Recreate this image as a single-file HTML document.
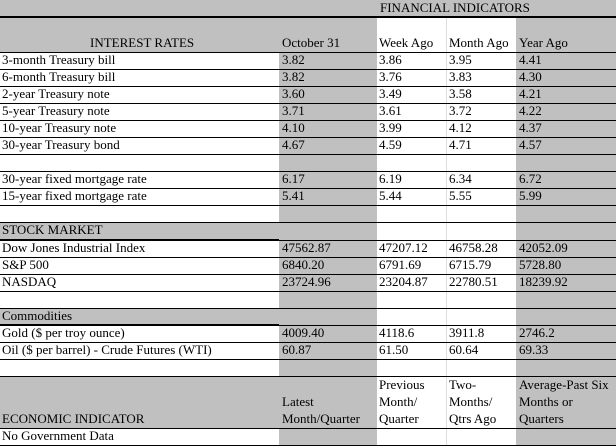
<!DOCTYPE html>
<html><head><meta charset="utf-8"><style>
body{margin:0;width:616px;height:446px;background:#fff;position:relative;overflow:hidden;font-family:"Liberation Serif",serif;font-size:13px;color:#000}
div{position:absolute}
.g{background:#c0c0c0}
.h{height:1px;background:#000;left:0;width:616px}
.t{white-space:nowrap;line-height:14px;margin-top:-1px}
</style></head><body>
<div class="g" style="left:0;top:0;width:616px;height:17px"></div>
<div class="g" style="left:0;top:18px;width:377px;height:34px"></div>
<div class="g" style="left:516px;top:18px;width:100px;height:428px"></div>
<div class="g" style="left:279px;top:18px;width:98px;height:428px"></div>
<div class="g" style="left:0;top:222px;width:279px;height:17px"></div>
<div class="g" style="left:0;top:308px;width:279px;height:17px"></div>
<div class="g" style="left:0;top:376px;width:279px;height:52px"></div>
<div style="left:446px;top:18px;width:1px;height:428px;background:#ddd"></div>
<div style="left:0;top:16px;width:616px;height:2px;background:#000"></div>
<div class="h" style="top:52px"></div><div class="h" style="top:69px"></div><div class="h" style="top:86px"></div><div class="h" style="top:103px"></div><div class="h" style="top:120px"></div><div class="h" style="top:137px"></div><div class="h" style="top:154px"></div><div class="h" style="top:171px"></div><div class="h" style="top:188px"></div><div class="h" style="top:205px"></div><div class="h" style="top:222px"></div>
<div style="left:0;top:239px;width:279px;height:2px;background:#000"></div>
<div class="h" style="top:240px"></div><div class="h" style="top:257px"></div><div class="h" style="top:274px"></div><div class="h" style="top:291px"></div><div class="h" style="top:308px"></div>
<div style="left:0;top:324px;width:279px;height:2px;background:#000"></div>
<div class="h" style="top:325px"></div><div class="h" style="top:342px"></div><div class="h" style="top:359px"></div><div class="h" style="top:376px"></div><div class="h" style="top:428px"></div><div class="h" style="top:445px"></div>

<div class="t" style="left:380px;top:2px">FINANCIAL INDICATORS</div>
<div class="t" style="left:90px;top:37px">INTEREST RATES</div>
<div class="t" style="left:282px;top:37px">October 31</div>
<div class="t" style="left:379px;top:37px">Week Ago</div>
<div class="t" style="left:449px;top:37px">Month Ago</div>
<div class="t" style="left:519px;top:37px">Year Ago</div>

<div class="t" style="left:2px;top:54px">3-month Treasury bill</div><div class="t" style="left:282px;top:54px">3.82</div><div class="t" style="left:379px;top:54px">3.86</div><div class="t" style="left:449px;top:54px">3.95</div><div class="t" style="left:519px;top:54px">4.41</div>
<div class="t" style="left:2px;top:71px">6-month Treasury bill</div><div class="t" style="left:282px;top:71px">3.82</div><div class="t" style="left:379px;top:71px">3.76</div><div class="t" style="left:449px;top:71px">3.83</div><div class="t" style="left:519px;top:71px">4.30</div>
<div class="t" style="left:2px;top:88px">2-year Treasury note</div><div class="t" style="left:282px;top:88px">3.60</div><div class="t" style="left:379px;top:88px">3.49</div><div class="t" style="left:449px;top:88px">3.58</div><div class="t" style="left:519px;top:88px">4.21</div>
<div class="t" style="left:2px;top:105px">5-year Treasury note</div><div class="t" style="left:282px;top:105px">3.71</div><div class="t" style="left:379px;top:105px">3.61</div><div class="t" style="left:449px;top:105px">3.72</div><div class="t" style="left:519px;top:105px">4.22</div>
<div class="t" style="left:2px;top:122px">10-year Treasury note</div><div class="t" style="left:282px;top:122px">4.10</div><div class="t" style="left:379px;top:122px">3.99</div><div class="t" style="left:449px;top:122px">4.12</div><div class="t" style="left:519px;top:122px">4.37</div>
<div class="t" style="left:2px;top:139px">30-year Treasury bond</div><div class="t" style="left:282px;top:139px">4.67</div><div class="t" style="left:379px;top:139px">4.59</div><div class="t" style="left:449px;top:139px">4.71</div><div class="t" style="left:519px;top:139px">4.57</div>

<div class="t" style="left:2px;top:173px">30-year fixed mortgage rate</div><div class="t" style="left:282px;top:173px">6.17</div><div class="t" style="left:379px;top:173px">6.19</div><div class="t" style="left:449px;top:173px">6.34</div><div class="t" style="left:519px;top:173px">6.72</div>
<div class="t" style="left:2px;top:190px">15-year fixed mortgage rate</div><div class="t" style="left:282px;top:190px">5.41</div><div class="t" style="left:379px;top:190px">5.44</div><div class="t" style="left:449px;top:190px">5.55</div><div class="t" style="left:519px;top:190px">5.99</div>

<div class="t" style="left:2px;top:224px">STOCK MARKET</div>
<div class="t" style="left:2px;top:242px">Dow Jones Industrial Index</div><div class="t" style="left:282px;top:242px">47562.87</div><div class="t" style="left:379px;top:242px">47207.12</div><div class="t" style="left:449px;top:242px">46758.28</div><div class="t" style="left:519px;top:242px">42052.09</div>
<div class="t" style="left:2px;top:259px">S&amp;P 500</div><div class="t" style="left:282px;top:259px">6840.20</div><div class="t" style="left:379px;top:259px">6791.69</div><div class="t" style="left:449px;top:259px">6715.79</div><div class="t" style="left:519px;top:259px">5728.80</div>
<div class="t" style="left:2px;top:276px">NASDAQ</div><div class="t" style="left:282px;top:276px">23724.96</div><div class="t" style="left:379px;top:276px">23204.87</div><div class="t" style="left:449px;top:276px">22780.51</div><div class="t" style="left:519px;top:276px">18239.92</div>

<div class="t" style="left:2px;top:310px">Commodities</div>
<div class="t" style="left:2px;top:327px">Gold ($ per troy ounce)</div><div class="t" style="left:282px;top:327px">4009.40</div><div class="t" style="left:379px;top:327px">4118.6</div><div class="t" style="left:449px;top:327px">3911.8</div><div class="t" style="left:519px;top:327px">2746.2</div>
<div class="t" style="left:2px;top:344px">Oil ($ per barrel) - Crude Futures (WTI)</div><div class="t" style="left:282px;top:344px">60.87</div><div class="t" style="left:379px;top:344px">61.50</div><div class="t" style="left:449px;top:344px">60.64</div><div class="t" style="left:519px;top:344px">69.33</div>

<div class="t" style="left:379px;top:379px">Previous</div><div class="t" style="left:449px;top:379px">Two-</div><div class="t" style="left:519px;top:379px">Average-Past Six</div>
<div class="t" style="left:282px;top:396px">Latest</div><div class="t" style="left:379px;top:396px">Month/</div><div class="t" style="left:449px;top:396px">Months/</div><div class="t" style="left:519px;top:396px">Months or</div>
<div class="t" style="left:2px;top:413px">ECONOMIC INDICATOR</div><div class="t" style="left:282px;top:413px">Month/Quarter</div><div class="t" style="left:379px;top:413px">Quarter</div><div class="t" style="left:449px;top:413px">Qtrs Ago</div><div class="t" style="left:519px;top:413px">Quarters</div>
<div class="t" style="left:2px;top:430px">No Government Data</div>
</body></html>
